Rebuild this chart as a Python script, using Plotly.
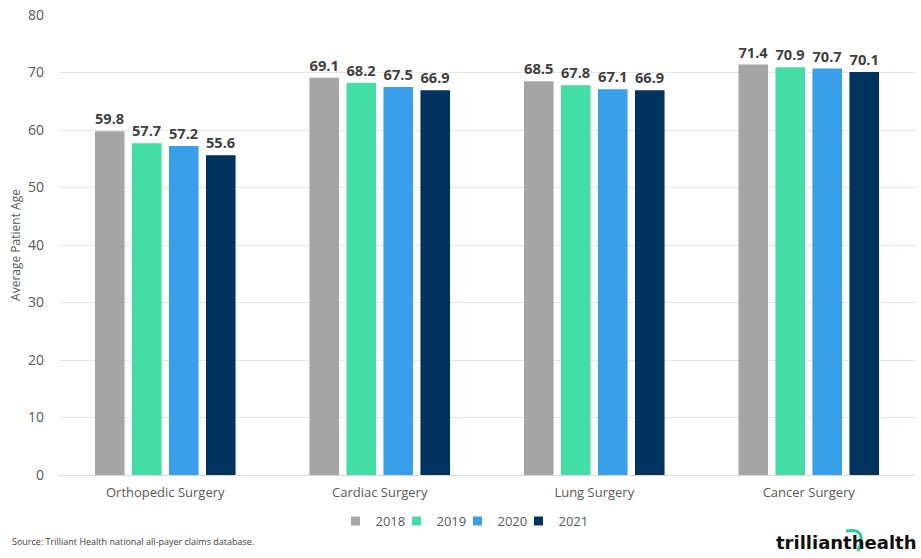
import plotly.graph_objects as go

categories = ["Orthopedic Surgery", "Cardiac Surgery", "Lung Surgery", "Cancer Surgery"]
years = ["2018", "2019", "2020", "2021"]
values_2018 = [59.8, 69.1, 68.5, 71.4]
values_2019 = [57.7, 68.2, 67.8, 70.9]
values_2020 = [57.2, 67.5, 67.1, 70.7]
values_2021 = [55.6, 66.9, 66.9, 70.1]
colors = ["#A5A5A5", "#44DDA6", "#3A9FEA", "#00345F"]

series = [values_2018, values_2019, values_2020, values_2021]
FONT = "'Open Sans', sans-serif"

fig = go.Figure()
for yr, vals, col in zip(years, series, colors):
    fig.add_trace(go.Bar(
        x=categories, y=vals, name=yr, marker=dict(color=col, line=dict(width=0)),
        text=[f"{v:.1f}" for v in vals], textposition="outside", cliponaxis=False,
        textfont=dict(family=FONT, size=15, color="#3F3F3F", weight="bold"),
        showlegend=False, legendgroup=yr,
    ))
# legend entries with small square swatches
for yr, col in zip(years, colors):
    fig.add_trace(go.Scatter(
        x=[None], y=[None], mode="markers", name=yr, legendgroup=yr,
        marker=dict(symbol="square", size=9, color=col),
    ))
# invisible spacer entry so the last legend label is not clipped
fig.add_trace(go.Scatter(
    x=[None], y=[None], mode="markers", name=" ", legendgroup="spacer",
    marker=dict(symbol="square", size=9, color="rgba(0,0,0,0)"), hoverinfo="skip",
))

W, H = 921, 558
L, R, T, B = 58, 5, 15, 83
pw, ph = W - L - R, H - T - B

fig.update_layout(
    width=W, height=H,
    margin=dict(l=L, r=R, t=T, b=B),
    paper_bgcolor="white", plot_bgcolor="white",
    barmode="group", bargap=0.31, bargroupgap=0.2,
    font=dict(family=FONT, color="#595959"),
    legend=dict(orientation="h", x=(488 - L) / pw, xanchor="center", y=(H - B - 506) / ph, yanchor="top",
                font=dict(size=13, color="#595959"), itemwidth=30, entrywidth=16,
                traceorder="normal", tracegroupgap=0, itemclick=False),
    showlegend=True,
    xaxis=dict(showgrid=False, showline=False, ticks="", ticklabelstandoff=8,
               tickfont=dict(size=13, color="#595959")),
    yaxis=dict(range=[0, 80], dtick=10, showgrid=True, gridcolor="#E6E6E6", gridwidth=1,
               zeroline=True, zerolinecolor="#D9D9D9", zerolinewidth=1,
               tickfont=dict(size=14, color="#595959"), ticklabelstandoff=13,
               title=dict(text="Average Patient Age", font=dict(size=12, color="#595959"), standoff=4)),
    annotations=[
        dict(text="Source: Trilliant Health national all-payer claims database.",
             x=(10 - L) / pw, y=(H - B - 541) / ph,
             xref="paper", yref="paper", showarrow=False, xanchor="left", yanchor="middle",
             font=dict(size=9, color="#404040")),
        dict(text="<b>trilliant</b><b>health</b>", x=(919 - L) / pw, y=(H - B - 542) / ph,
             xref="paper", yref="paper",
             showarrow=False, xanchor="right", yanchor="middle",
             font=dict(size=18, color="#111111", family="'DejaVu Sans', sans-serif")),
    ],
    shapes=[
        dict(type="path", xref="paper", yref="paper",
             path=f"M {(846 - L) / pw} {(H - B - 531) / ph} Q {(868 - L) / pw} {(H - B - 527) / ph} {(858 - L) / pw} {(H - B - 551) / ph}",
             line=dict(color="#2EC99A", width=3)),
    ],
)

fig.write_html("out.html")
